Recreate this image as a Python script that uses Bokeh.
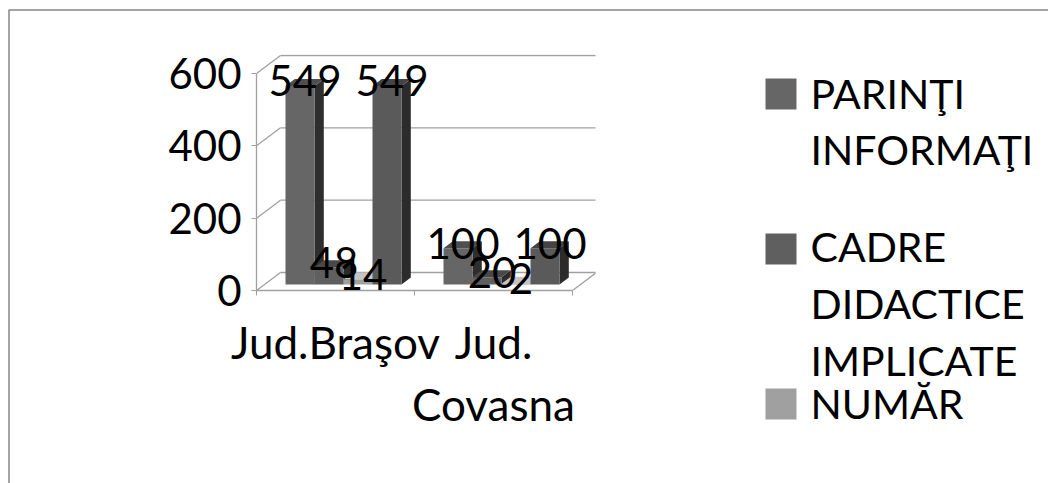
from bokeh.plotting import figure
from bokeh.embed import file_html
from bokeh.resources import INLINE
from bokeh.core.properties import value
from bokeh.models import Range1d, FixedTicker

categories = ["Jud.Braşov", "Jud.\nCovasna"]
series_values = {
    "s1": [549, 100],
    "s2": [48, 20],
    "s3": [14, 2],
    "s4": [549, 100],
}
front_colors = ["#666666", "#5f5f5f", "#a0a0a0", "#5a5a5a"]
top_colors = ["#4f4f4f", "#484848", "#c4c4c4", "#444444"]
side_colors = ["#2e2e2e", "#2b2b2b", "#5f5f5f", "#2b2b2b"]
y_ticks = [0, 200, 400, 600]
legend_lines = ["PARINŢI", "INFORMAŢI", "CADRE", "DIDACTICE", "IMPLICATE", "NUMĂR"]

FONT = "Lato"
FS = "42px"
GRID = "#a0a0a0"

# page geometry
L, R, T, B = 256, 595, 54, 290
PX_X = 158.0           # px per category
PX_Y = 217.0 / 600.0   # px per unit
W, H = 1048, 483
ORG = 0

def dx(px): return px / PX_X
def dy(px): return px / PX_Y
def X(page): return (page - L) / PX_X
def Y(page): return (B - page) / PX_Y

p = figure(width=W, height=H, output_backend="svg", toolbar_location=None,
           x_range=Range1d(0, (R - L) / PX_X), y_range=Range1d(0, (B - T) / PX_Y),
           min_border_left=L - ORG, min_border_right=W - (R - ORG),
           min_border_top=T - ORG, min_border_bottom=H - (B - ORG))
p.outline_line_color = None
p.xgrid.visible = False
p.ygrid.visible = False
p.background_fill_color = "white"

# walls and floor
DEPTH_X, DEPTH_Y = dx(24), dy(18)
xmax = 2.0
p.multi_line([[0, DEPTH_X] for t in y_ticks],
             [[t, t + DEPTH_Y] for t in y_ticks], line_color=GRID, line_width=1.3)
p.multi_line([[DEPTH_X, xmax + DEPTH_X] for t in y_ticks],
             [[t + DEPTH_Y, t + DEPTH_Y] for t in y_ticks], line_color=GRID, line_width=1.3)
p.line([xmax, xmax + DEPTH_X], [0, DEPTH_Y], line_color=GRID, line_width=1.3)

# axes
ya = p.yaxis[0]
ya.ticker = FixedTicker(ticks=y_ticks)
ya.bounds = (0, 600)
ya.axis_line_color = GRID
ya.axis_line_width = 1.3
ya.major_tick_line_color = GRID
ya.major_tick_out = 5
ya.major_tick_in = 0
ya.minor_tick_line_color = None
ya.major_label_text_font = FONT
ya.major_label_text_font_size = FS
ya.major_label_standoff = 10
ya.major_label_text_color = "black"

xa = p.xaxis[0]
xa.ticker = FixedTicker(ticks=[0.5, 1.5], minor_ticks=[0, 1, 2])
xa.bounds = (0, 2)
xa.major_label_overrides = {0.5: categories[0], 1.5: categories[1]}
xa.axis_line_color = GRID
xa.axis_line_width = 1.3
xa.major_tick_line_color = None
xa.minor_tick_line_color = GRID
xa.minor_tick_out = 5
xa.minor_tick_in = 0
xa.major_label_text_font = FONT
xa.major_label_text_font_size = "44px"
xa.major_label_standoff = 19
xa.major_label_text_color = "black"
xa.major_label_text_line_height = 1.2

# bars (oblique 3D)
bw = dx(29)
offy = dy(6)
bdx, bdy = dx(9.3), dy(7)
lab_x, lab_y, lab_t = [], [], []
for g in range(2):
    for s, key in enumerate(series_values):
        v = series_values[key][g]
        x0 = g + 0.5 - 2 * bw + dx(8) + s * bw
        x1 = x0 + bw
        y0 = offy
        y1 = offy + v
        p.patch([x1, x1 + bdx, x1 + bdx, x1], [y0, y0 + bdy, y1 + bdy, y1],
                fill_color=side_colors[s], line_color=None)
        p.patch([x0, x1, x1 + bdx, x0 + bdx], [y1, y1, y1 + bdy, y1 + bdy],
                fill_color=top_colors[s], line_color=None)
        p.quad(left=x0, right=x1, bottom=y0, top=y1, fill_color=front_colors[s], line_color=None)
        lab_x.append((x0 + x1) / 2 + dx(5))
        lab_y.append(y1 + dy(5))
        lab_t.append(str(v))

p.text(lab_x, lab_y, lab_t, text_font=value(FONT), text_font_size=FS, text_align="center",
       text_baseline="middle", text_color="black", level="annotation")

# legend
swatch_y = [78, 233, 388]
for c, sy in zip(front_colors[:3], swatch_y):
    p.patch([X(765), X(796), X(796), X(765)], [Y(sy), Y(sy), Y(sy + 31), Y(sy + 31)],
            fill_color=c, line_color=None, level="annotation")
legend_base = [93, 149, 246, 303, 360, 403]
p.text([X(810)] * 6, [Y(v) for v in legend_base], legend_lines, text_font=value(FONT),
       text_font_size="41px", text_align="left", text_baseline="alphabetic", text_color="black",
       level="annotation")

# page border
p.line([X(8.5), X(8.5), X(1048)], [Y(483), Y(9.5), Y(9.5)], line_color="#868686",
       line_width=1.5, level="annotation")

open("out.html", "w").write(file_html(p, INLINE))
